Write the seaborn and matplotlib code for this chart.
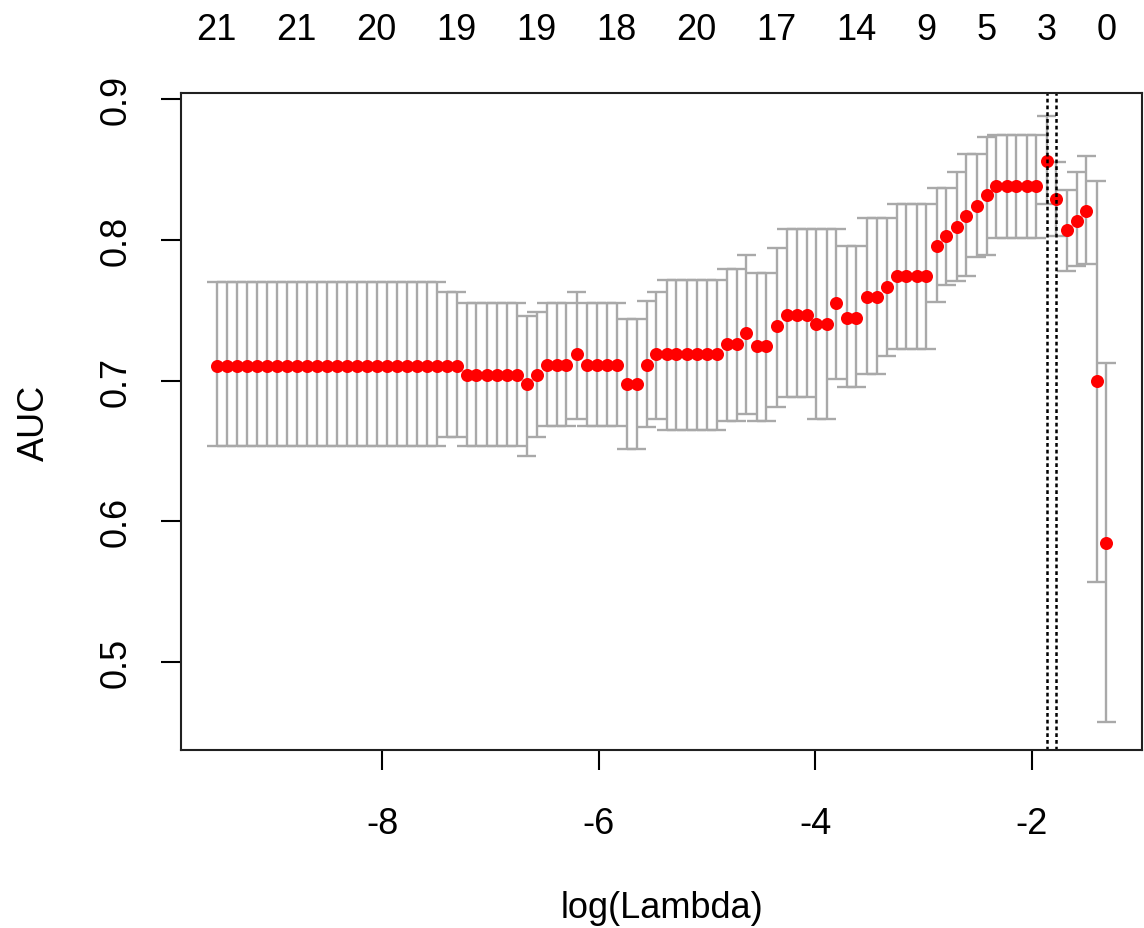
import numpy as np
import pandas as pd
import seaborn as sns
import matplotlib
matplotlib.use("Agg")
import matplotlib.pyplot as plt

# log(lambda) path
log_lambda = [
    -9.534, -9.442, -9.349, -9.257, -9.164, -9.072, -8.979, -8.887, -8.795, -8.702,
    -8.610, -8.517, -8.425, -8.332, -8.240, -8.147, -8.055, -7.963, -7.870, -7.778,
    -7.685, -7.593, -7.500, -7.408, -7.315, -7.223, -7.131, -7.038, -6.946, -6.853,
    -6.761, -6.668, -6.576, -6.483, -6.391, -6.299, -6.206, -6.114, -6.021, -5.929,
    -5.836, -5.744, -5.651, -5.559, -5.467, -5.374, -5.282, -5.189, -5.097, -5.004,
    -4.912, -4.819, -4.727, -4.635, -4.542, -4.450, -4.357, -4.265, -4.172, -4.080,
    -3.988, -3.895, -3.803, -3.710, -3.618, -3.525, -3.433, -3.340, -3.248, -3.156,
    -3.063, -2.971, -2.878, -2.786, -2.693, -2.601, -2.508, -2.416, -2.324, -2.231,
    -2.139, -2.046, -1.954, -1.861, -1.769, -1.676, -1.584, -1.492, -1.399, -1.307,
]

# mean cross-validated AUC
auc = ([0.7105] * 25 + [0.704] * 6 + [0.6975, 0.704] + [0.711] * 3 + [0.7188]
       + [0.711] * 4 + [0.6975] * 2 + [0.711] + [0.7188] * 7 + [0.7259] * 2
       + [0.7337] + [0.7243] * 2 + [0.7385] + [0.7465] * 3 + [0.7401] * 2
       + [0.7551] + [0.7444] * 2 + [0.7596] * 2 + [0.7662] + [0.7745] * 4
       + [0.7958, 0.8024, 0.8088, 0.8171, 0.8238, 0.8318] + [0.838] * 5
       + [0.8562, 0.829, 0.8071, 0.8136, 0.8204, 0.6994, 0.5846])

# upper / lower error bars
auc_up = ([0.7698] * 23 + [0.7631] * 2 + [0.755] * 6 + [0.746, 0.7484] + [0.755] * 3
          + [0.7631] + [0.755] * 4 + [0.7435] * 2 + [0.7567, 0.7631] + [0.7712] * 6
          + [0.7792] * 2 + [0.7894] + [0.7765] * 2 + [0.7939] + [0.8076] * 6
          + [0.7958] * 2 + [0.8155] * 3 + [0.8254] * 4 + [0.8365] * 2 + [0.8484]
          + [0.861] * 2 + [0.8728] + [0.8744] * 5
          + [0.8877, 0.855, 0.8356, 0.8484, 0.8593, 0.842, 0.7124])
auc_lo = ([0.6532] * 23 + [0.6597] * 2 + [0.6532] * 6 + [0.6466, 0.6602] + [0.6679] * 3
          + [0.6726] + [0.6679] * 4 + [0.6515] * 2 + [0.6667, 0.6726] + [0.665] * 6
          + [0.6715] * 2 + [0.6765] + [0.6715] * 2 + [0.681] + [0.6881] * 3
          + [0.6726] * 2 + [0.7011] + [0.6952] * 2 + [0.7046] * 2 + [0.7176]
          + [0.7224] * 4 + [0.7555, 0.7681, 0.7709, 0.7745, 0.7875, 0.7892]
          + [0.801] * 5 + [0.8254, 0.8024, 0.778, 0.7816, 0.7828, 0.557, 0.4571])

# number of non-zero coefficients shown on top
nzero_at = [0, 8, 16, 24, 32, 40, 48, 56, 64, 71, 77, 83, 89]
nzero_labels = ["21", "21", "20", "19", "19", "18", "20", "17", "14", "9", "5", "3", "0"]

lambda_min_idx = 83
lambda_1se_idx = 84

df = pd.DataFrame({"log_lambda": log_lambda, "auc": auc, "up": auc_up, "lo": auc_lo})

sns.set_theme(style="white")
plt.rcParams["font.family"] = ["Liberation Sans", "DejaVu Sans"]
plt.rcParams["axes.unicode_minus"] = False
plt.rcParams["text.color"] = "black"
plt.rcParams["axes.labelcolor"] = "black"
plt.rcParams["xtick.color"] = "black"
plt.rcParams["ytick.color"] = "black"

fig = plt.figure(figsize=(11.44, 9.29), dpi=100)
ax = fig.add_axes([0.1582, 0.1916, 0.8401, 0.7072])

barw = 0.0865
grey = "#A9A9A9"
ax.vlines(df.log_lambda, df.lo, df.up, color=grey, lw=1.7, zorder=1)
ax.hlines(df.up, df.log_lambda - barw, df.log_lambda + barw, color=grey, lw=1.7, zorder=1)
ax.hlines(df.lo, df.log_lambda - barw, df.log_lambda + barw, color=grey, lw=1.7, zorder=1)

sns.scatterplot(data=df, x="log_lambda", y="auc", color="red", s=88, linewidth=0,
                ax=ax, zorder=3, legend=False)

for i in [lambda_min_idx, lambda_1se_idx]:
    ax.axvline(log_lambda[i], color="black", lw=1.8, ls=(0, (1.5, 1.2)), zorder=4)

ax.set_xlim(-9.863, -0.978)
ax.set_ylim(0.4375, 0.9043)
ax.set_xticks([-8, -6, -4, -2])
ax.set_xticklabels(["-8", "-6", "-4", "-2"])
ax.set_yticks([0.5, 0.6, 0.7, 0.8, 0.9])
ax.set_yticklabels(["0.5", "0.6", "0.7", "0.8", "0.9"], rotation=90, va="center")
ax.tick_params(axis="both", labelsize=26, length=14.4, width=1.5, colors="black",
               direction="out", bottom=True, left=True)
ax.tick_params(axis="x", pad=26)
ax.tick_params(axis="y", pad=20)
for sp in ax.spines.values():
    sp.set_color("black")
    sp.set_linewidth(1.5)

ax.set_xlabel("log(Lambda)", fontsize=26, color="black")
ax.set_ylabel("AUC", fontsize=26, color="black")
ax.xaxis.set_label_coords(0.5, -0.239)
ax.xaxis.label.set_va("center")
ax.yaxis.set_label_coords(-0.152, 0.5)
ax.yaxis.label.set_va("center")

ax2 = ax.twiny()
ax2.set_xlim(ax.get_xlim())
ax2.set_xticks([log_lambda[i] for i in nzero_at])
ax2.set_xticklabels(nzero_labels)
ax2.tick_params(axis="x", length=0, labelsize=26, pad=33, colors="black")
ax2.grid(False)

fig.savefig("out.png", dpi=100)
